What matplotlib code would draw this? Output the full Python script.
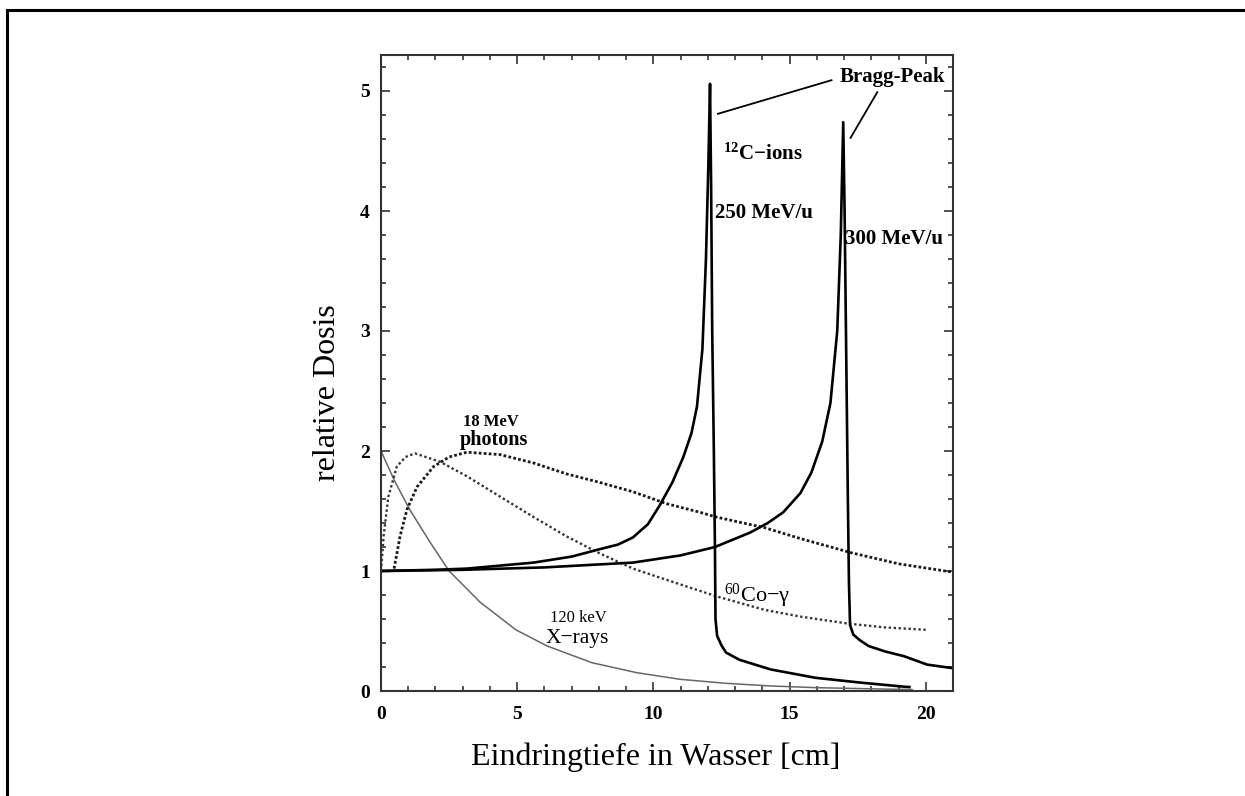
import numpy as np
import matplotlib.pyplot as plt
from matplotlib.lines import Line2D

plt.rcParams['font.family'] = ['Liberation Serif', 'DejaVu Serif']
plt.rcParams['mathtext.default'] = 'regular'

# depth in water [cm] and relative dose
c250_x = [0, 2, 3.15, 5.6, 7.0, 8.0, 8.7, 9.25, 9.8, 10.24, 10.7, 11.1, 11.4, 11.6, 11.8,
          11.93, 12.02, 12.08, 12.12, 12.16, 12.22, 12.26, 12.28, 12.34, 12.5, 12.67,
          13.16, 14.3, 15.95, 17.6, 19.2, 19.4]
c250_y = [1.0, 1.01, 1.02, 1.07, 1.12, 1.18, 1.22, 1.28, 1.39, 1.55, 1.74, 1.95, 2.15,
          2.37, 2.85, 3.6, 4.4, 5.06, 4.2, 3.0, 2.0, 1.2, 0.6, 0.46, 0.38, 0.32,
          0.26, 0.18, 0.11, 0.07, 0.036, 0.033]

c300_x = [0, 3, 6, 9.25, 11, 12.26, 13.55, 14.2, 14.77, 15.4, 15.8, 16.2, 16.5, 16.75,
          16.88, 16.97, 17.02, 17.08, 17.14, 17.18, 17.22, 17.34, 17.6, 17.9, 18.5, 19.2,
          20.05, 21]
c300_y = [1.0, 1.01, 1.03, 1.07, 1.13, 1.2, 1.32, 1.4, 1.49, 1.65, 1.82, 2.08, 2.4, 3.0,
          3.8, 4.74, 4.0, 2.8, 1.6, 0.9, 0.55, 0.47, 0.42, 0.375, 0.33, 0.29,
          0.22, 0.19]

ph18_x = [0.48, 0.7, 0.95, 1.32, 1.93, 2.5, 3.15, 4.37, 5.6, 6.8, 8.0, 9.25, 10.5,
          11.7, 12.3, 14.1, 15.4, 17.3, 19.0, 21]
ph18_y = [1.02, 1.29, 1.51, 1.70, 1.87, 1.95, 1.99, 1.97, 1.90, 1.81, 1.74, 1.66, 1.56,
          1.49, 1.45, 1.36, 1.27, 1.15, 1.06, 0.99]

co60_x = [0, 0.1, 0.27, 0.58, 0.9, 1.25, 2.17, 3.15, 4.37, 5.6, 6.8, 8.0, 9.25, 10.5,
          12.3, 14.1, 15.4, 17.2, 18.5, 20.0]
co60_y = [1.0, 1.3, 1.62, 1.87, 1.95, 1.98, 1.91, 1.79, 1.62, 1.45, 1.29, 1.15, 1.02,
          0.925, 0.79, 0.675, 0.62, 0.56, 0.53, 0.51]

xray_x = [0, 0.5, 1.06, 1.8, 2.5, 3.64, 4.95, 6.1, 7.74, 9.38, 11.0, 12.67, 14.3,
          15.95, 17.6, 19.5]
xray_y = [2.0, 1.75, 1.51, 1.24, 1.0, 0.74, 0.51, 0.375, 0.236, 0.153, 0.097, 0.064,
          0.042, 0.028, 0.02, 0.012]

W, H = 1245, 796
fig = plt.figure(figsize=(W / 100, H / 100), dpi=100)
ax = fig.add_axes([381 / W, 1 - 691 / H, 572 / W, 636 / H])

# outer frame of the original picture (top and left edge only)
fig.add_artist(Line2D([7 / W, 1], [1 - 10 / H, 1 - 10 / H], color='black', lw=2.2))
fig.add_artist(Line2D([7 / W, 7 / W], [1 - 10 / H, 0], color='black', lw=2.2))

ax.plot(xray_x, xray_y, color='#666666', lw=1.1)
ax.plot(co60_x, co60_y, color='#333333', lw=1.7, ls=(0, (1, 1.1)))
ax.plot(ph18_x, ph18_y, color='#1a1a1a', lw=2.0, ls=(0, (1, 0.8)))
ax.plot(c250_x, c250_y, color='black', lw=1.9)
ax.plot(c300_x, c300_y, color='black', lw=1.9)

ax.set_xlim(0, 21)
ax.set_ylim(0, 5.3)
ax.set_xticks([0, 5, 10, 15, 20])
ax.set_yticks([0, 1, 2, 3, 4, 5])
ax.set_xticks(np.arange(0, 21, 1), minor=True)
ax.set_yticks(np.arange(0, 5.3, 0.2), minor=True)
ax.tick_params(which='both', direction='in', top=True, right=True, width=1.2,
               color='#333333')
ax.tick_params(which='major', length=6.5, labelsize=14)
ax.tick_params(which='minor', length=3.5)
ax.tick_params(axis='x', pad=11)
ax.tick_params(axis='y', pad=8)
for lab in ax.get_xticklabels() + ax.get_yticklabels():
    lab.set_fontweight('bold')
for sp in ax.spines.values():
    sp.set_linewidth(1.5)
    sp.set_color('#333333')

ax.set_xlabel('Eindringtiefe in Wasser [cm]', fontsize=23, va='center')
ax.xaxis.set_label_coords(0.481, -0.104)
ax.set_ylabel('relative Dosis', fontsize=23, va='center', ha='center')
ax.yaxis.set_label_coords(-0.0944, 0.4686)

# annotations
ax.text(18.76, 5.12, 'Bragg-Peak', fontsize=15, fontweight='bold', ha='center', va='center')
ax.plot([12.37, 16.54], [4.81, 5.09], color='black', lw=1.3)
ax.plot([17.24, 18.22], [4.61, 4.99], color='black', lw=1.3)
ax.text(12.55, 4.47, '$^{12}$C\u2212ions', fontsize=15, fontweight='bold', va='center')
ax.text(12.26, 3.98, '250 MeV/u', fontsize=15, fontweight='bold', va='center')
ax.text(17.03, 3.77, '300 MeV/u', fontsize=15, fontweight='bold', va='center')
ax.text(4.02, 2.24, '18 MeV', fontsize=12, fontweight='bold', ha='center', va='center')
ax.text(4.14, 2.09, 'photons', fontsize=14.5, fontweight='bold', ha='center', va='center')
ax.text(12.6, 0.79, '$^{60}$Co\u2212\u03b3', fontsize=16, va='center')
ax.text(7.25, 0.61, '120 keV', fontsize=12, ha='center', va='center')
ax.text(7.22, 0.436, 'X\u2212rays', fontsize=15.5, ha='center', va='center')

fig.savefig('out.png', dpi=100)
